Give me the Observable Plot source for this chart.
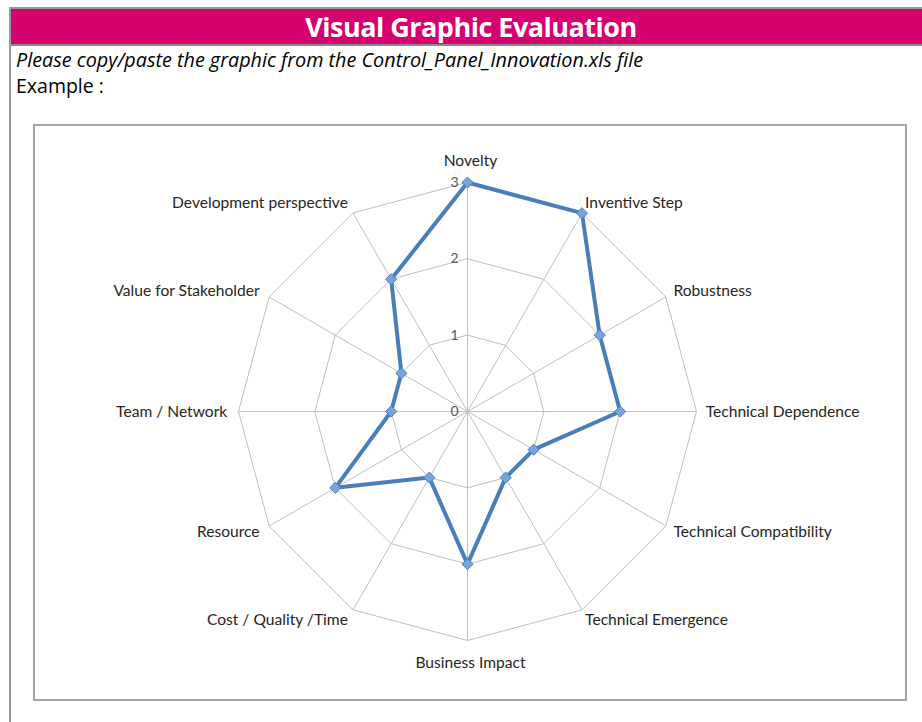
<!DOCTYPE html>
<html>
<head>
<meta charset="utf-8">
<script src="https://cdn.jsdelivr.net/npm/d3@7"></script>
<script src="https://cdn.jsdelivr.net/npm/@observablehq/plot@0.6"></script>
<style>
  html, body { margin: 0; padding: 0; background: #fff; }
  #page { position: relative; width: 922px; height: 722px; overflow: hidden; font-family: Lato, "Open Sans", sans-serif; }
  #frame { position: absolute; left: 9px; top: 7px; width: 940px; height: 760px; border-left: 2px solid #9a9a9a; border-top: 2px solid #9a9a9a; }
  #header { position: absolute; left: 11px; top: 9px; width: 920px; height: 35px; background: #d4016f; border-bottom: 2px solid #8a8a8a;
            color: #fff; font-weight: bold; font-size: 27px; text-align: center; line-height: 35px; font-family: "Open Sans", Lato, sans-serif; letter-spacing: -0.5px; }
  #sub { position: absolute; left: 16px; top: 46px; font-size: 19.8px; font-style: italic; color: #000; font-family: "Open Sans", Lato, sans-serif; white-space: nowrap; }
  #ex { position: absolute; left: 16px; top: 72px; font-size: 19.5px; color: #000; font-family: "Open Sans", Lato, sans-serif; white-space: nowrap; }
  #box { position: absolute; left: 33px; top: 124px; width: 870px; height: 573px; border: 2px solid #a6a6a6; }
  #box svg { display: block; }
</style>
</head>
<body>
<div id="page">
  <div id="frame"></div>
  <div id="header">Visual Graphic Evaluation</div>
  <div id="sub">Please copy/paste the graphic from the Control_Panel_Innovation.xls file</div>
  <div id="ex">Example :</div>
  <div id="box"></div>
</div>
<script>
const categories = ["Novelty", "Inventive Step", "Robustness", "Technical Dependence",
  "Technical Compatibility", "Technical Emergence", "Business Impact", "Cost / Quality /Time",
  "Resource", "Team / Network", "Value for Stakeholder", "Development perspective"];
const values = [3, 3, 2, 2, 1, 1, 2, 1, 2, 1, 1, 2];
const levels = [0, 1, 2, 3];
const tickLabels = ["0", "1", "2", "3"];

const n = categories.length;
const maxV = 3;
const ang = i => (i * 2 * Math.PI) / n;
const px = (i, r) => r * Math.sin(ang(i));
const py = (i, r) => r * Math.cos(ang(i));

const W = 870, H = 573, cx = 432, cy = 285, R = 229;

const grid = [];
for (const lv of levels.slice(1)) for (let i = 0; i < n; i++) grid.push({lv, x: px(i, lv), y: py(i, lv)});
const spokes = categories.map((c, i) => ({x1: 0, y1: 0, x2: px(i, maxV), y2: py(i, maxV)}));
const pts = categories.map((c, i) => ({c, v: values[i], x: px(i, values[i]), y: py(i, values[i])}));
const lab = categories.map((c, i) => ({c, i, x: px(i, maxV + 0.16), y: py(i, maxV + 0.16)}));
const labRight = lab.filter(d => d.i > 0 && d.i < n / 2);
const labLeft = lab.filter(d => d.i > n / 2);
const labTop = lab.filter(d => d.i === 0);
const labBottom = lab.filter(d => d.i === n / 2);
const ticks = levels.map((l, k) => ({l, t: tickLabels[k]}));

const font = "Lato, 'Open Sans', sans-serif";
const fs = 15.6;
const chart = Plot.plot({
  width: W, height: H,
  margin: 0,
  x: {domain: [-maxV, maxV], range: [cx - R, cx + R], axis: null},
  y: {domain: [-maxV, maxV], range: [cy + R, cy - R], axis: null},
  style: {fontFamily: font, background: "transparent"},
  marks: [
    Plot.line(grid, {x: "x", y: "y", z: "lv", curve: "linear-closed", stroke: "#c0c0c0", strokeWidth: 1}),
    Plot.link(spokes, {x1: "x1", y1: "y1", x2: "x2", y2: "y2", stroke: "#c0c0c0", strokeWidth: 1}),
    Plot.text(ticks, {x: 0, y: "l", text: "t", textAnchor: "end", dx: -9, dy: 0, fontSize: 14, fill: "#595959"}),
    Plot.line(pts, {x: "x", y: "y", curve: "linear-closed", stroke: "#4a7ebb", strokeWidth: 4, strokeLinejoin: "round"}),
    Plot.dot(pts, {x: "x", y: "y", symbol: "diamond2", r: 5, fill: "#79a3dc", stroke: "#4a7ebb", strokeWidth: 1}),
    Plot.text(labRight, {x: "x", y: "y", text: "c", textAnchor: "start", fontSize: fs, fill: "#262626", dx: -3}),
    Plot.text(labLeft, {x: "x", y: "y", text: "c", textAnchor: "end", fontSize: fs, fill: "#262626", dx: 1}),
    Plot.text(labTop, {x: 0, y: maxV, text: "c", textAnchor: "middle", fontSize: fs, fill: "#262626", dx: 3, dy: -22}),
    Plot.text(labBottom, {x: 0, y: -maxV, text: "c", textAnchor: "middle", fontSize: fs, fill: "#262626", dx: 3, dy: 22})
  ]
});
document.getElementById("box").appendChild(chart);
</script>
</body>
</html>
